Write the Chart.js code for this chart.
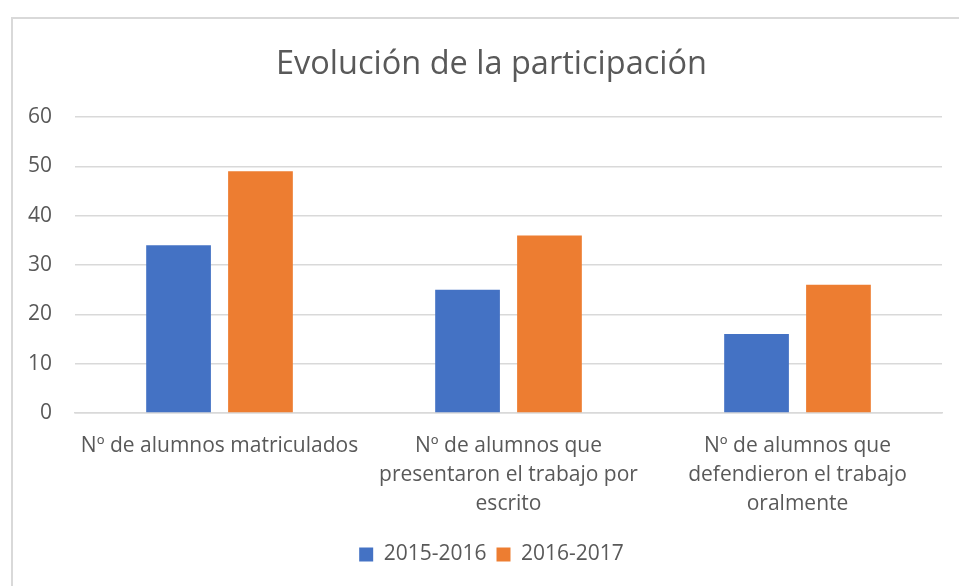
<!DOCTYPE html>
<html>
<head>
<meta charset="utf-8">
<script src="https://cdn.jsdelivr.net/npm/chart.js@4"></script>
<style>
  html, body { margin: 0; padding: 0; background: #fff; }
  #marco {
    position: absolute; left: 11px; top: 17px; right: 0; bottom: 0;
    border-top: 2px solid #d9d9d9; border-left: 2px solid #d9d9d9;
  }
  #wrap { position: absolute; left: 0; top: 0; width: 959px; height: 586px; }
</style>
</head>
<body>
<div id="marco"></div>
<div id="wrap"><canvas id="participacionChart"></canvas></div>
<script>
// Datos
const categorias = [
    ['Nº de alumnos matriculados'],
    ['Nº de alumnos que', 'presentaron el trabajo por', 'escrito'],
    ['Nº de alumnos que', 'defendieron el trabajo', 'oralmente']
];
const curso2015 = [34, 25, 16];
const curso2016 = [49, 36, 26];
const ticksY = [0, 10, 20, 30, 40, 50, 60];

const fuente = "'Open Sans', 'Noto Sans', sans-serif";
const gris = '#595959';

// El título y la leyenda van centrados en el marco, no en el lienzo
const desplazarCajas = {
    id: 'desplazarCajas',
    afterLayout(chart) {
        [chart.titleBlock, chart.legend].forEach(box => {
            if (!box) return;
            box.left += 18;
            box.right += 18;
        });
    }
};

const ctx = document.getElementById('participacionChart').getContext('2d');
const chart = new Chart(ctx, {
    type: 'bar',
    data: {
        labels: categorias,
        datasets: [{
            label: '2015-2016',
            data: curso2015,
            backgroundColor: '#4472c4',
            categoryPercentage: 0.567,
            barPercentage: 0.79
        }, {
            label: '2016-2017',
            data: curso2016,
            backgroundColor: '#ed7d31',
            categoryPercentage: 0.567,
            barPercentage: 0.79
        }]
    },
    options: {
        responsive: true,
        maintainAspectRatio: false,
        animation: false,
        layout: { padding: { left: 5, right: 17, top: 45, bottom: 11 } },
        scales: {
            y: {
                min: 0,
                max: 60,
                afterBuildTicks: axis => { axis.ticks = ticksY.map(v => ({ value: v })); },
                grid: { color: '#d9d9d9', lineWidth: 1.5, drawTicks: false },
                border: { display: false },
                ticks: { color: gris, font: { family: fuente, size: 21 }, padding: 23 }
            },
            x: {
                grid: { display: false },
                border: { color: '#d9d9d9', width: 1.5 },
                afterFit: axis => { axis.height += 4; },
                ticks: {
                    color: gris, font: { family: fuente, size: 21, lineHeight: 29 / 21 },
                    padding: 11, maxRotation: 0, autoSkip: false
                }
            }
        },
        plugins: {
            title: {
                display: true,
                text: 'Evolución de la participación',
                color: gris,
                font: { family: fuente, size: 32.5, weight: 'normal' },
                padding: { top: 0, bottom: 33 }
            },
            legend: {
                position: 'bottom',
                labels: {
                    color: gris, font: { family: fuente, size: 21 },
                    boxWidth: 14, boxHeight: 14, padding: 10
                }
            },
            tooltip: { enabled: false }
        }
    },
    plugins: [desplazarCajas]
});
</script>
</body>
</html>
